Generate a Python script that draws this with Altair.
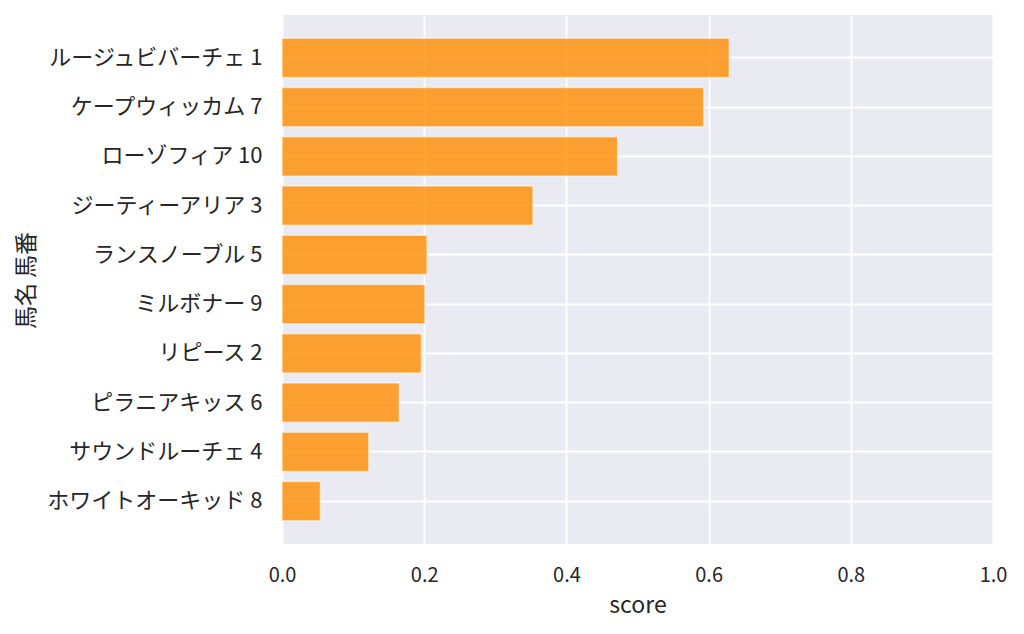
import altair as alt
import pandas as pd

horses = ["ルージュビバーチェ 1", "ケープウィッカム 7", "ローゾフィア 10", "ジーティーアリア 3",
          "ランスノーブル 5", "ミルボナー 9", "リピース 2", "ピラニアキッス 6",
          "サウンドルーチェ 4", "ホワイトオーキッド 8"]
scores = [0.629, 0.593, 0.472, 0.353, 0.204, 0.201, 0.196, 0.165, 0.122, 0.054]
x_ticks = [0, 0.2, 0.4, 0.6, 0.8, 1.0]

df = pd.DataFrame({"name": horses, "score": scores})

FONT = "Noto Sans CJK JP"

bars = alt.Chart(df).mark_bar(
    color="#FF8C00", fillOpacity=0.8, stroke="#ffffff", strokeOpacity=0.5, strokeWidth=1.5
).encode(
    x=alt.X("score:Q", title="score",
            scale=alt.Scale(domain=[0, 1], nice=False, zero=True),
            axis=alt.Axis(values=x_ticks, format=".1f", labelFlush=False,
                          labelFontSize=20, labelPadding=21, titlePadding=9)),
    y=alt.Y("name:N", title="馬名 馬番", sort=horses,
            scale=alt.Scale(paddingInner=0.2, paddingOuter=0.47),
            axis=alt.Axis(bandPosition=0.5, labelPadding=20, labelFontSize=22, labelLimit=400,
                          titleX=-256, titleY=265, titleAngle=-90,
                          titleAlign="center", titleBaseline="middle")),
).properties(
    width=711, height=529,
    autosize=alt.AutoSizeParams(type="none"),
    padding={"left": 274, "top": 7, "right": 20, "bottom": 80},
).configure_view(
    fill="#EAEAF2", stroke=None
).configure_axis(
    grid=True, gridColor="#ffffff", gridWidth=1.8, domain=False, ticks=False, tickSize=0,
    labelFont=FONT, titleFont=FONT, titleFontSize=23,
    labelColor="#262626", titleColor="#262626", titleFontWeight="normal",
)

chart = bars
chart.save("out.html", embed_options={"renderer": "svg", "actions": False})
